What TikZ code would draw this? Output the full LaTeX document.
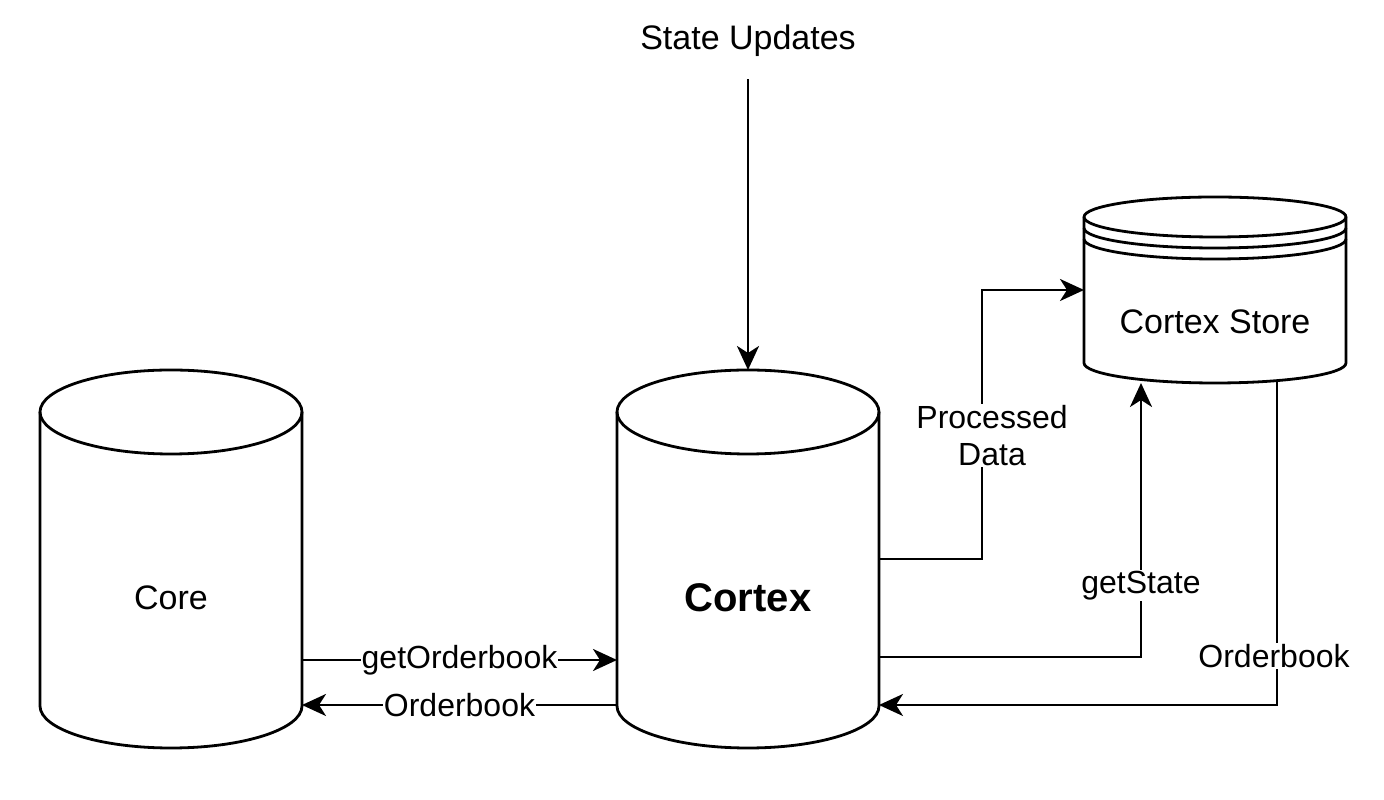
\documentclass[tikz,border=0pt]{standalone}
\usepackage{fontspec}
\setmainfont{Liberation Sans}
\usepackage{tikz}
\usetikzlibrary{arrows.meta, positioning, calc}

% cylinder outline round a named node: #1 node, #2 half height of the cap
\newcommand{\cylout}[2]{%
  \draw[line width=2.8pt, fill=white]
    ([yshift=-#2]#1.north west) -- ([yshift=#2]#1.south west)
    arc[start angle=180, end angle=360, x radius=131pt, y radius=#2]
    -- ([yshift=-#2]#1.north east)
    arc[start angle=0, end angle=180, x radius=131pt, y radius=#2] -- cycle;
  \draw[line width=2.8pt] ([yshift=-#2]#1.north west)
    arc[start angle=180, end angle=360, x radius=131pt, y radius=#2];
}

\begin{document}
\begin{tikzpicture}[x=1pt, y=1pt,
    cyl/.style={draw=none, inner sep=0pt, outer sep=0pt, minimum width=262pt},
    big/.style={font=\fontsize{34}{40}\selectfont},
    lbl/.style={fill=white, inner sep=1pt, align=center, font=\fontsize{32}{37}\selectfont},
    arr/.style={-{Stealth[length=24pt, width=22pt, inset=7pt]}, line width=2.8pt}]
    \useasboundingbox (0,0) rectangle (1384,800);
    % Nodes
    \node[cyl, minimum height=378pt] (core) at (171,241) {};
    \node[cyl, minimum height=378pt] (cortex) at (748,241) {};
    \node[cyl, minimum height=186pt] (store) at (1215,510) {};
    \node[big] (updates) at (748,759) {State Updates};

    % Shapes
    \cylout{core}{42pt}
    \cylout{cortex}{42pt}
    \cylout{store}{20pt}
    \foreach \s in {31pt, 42pt}
        \draw[line width=2.8pt] ([yshift=-\s]store.north west)
            arc[start angle=180, end angle=360, x radius=131pt, y radius=20pt];
    \node[big] (core-txt) at ([yshift=-39pt]core.center) {Core};
    \node[font=\fontsize{40}{46}\selectfont\bfseries] (cortex-txt) at ([yshift=-39pt]cortex.center) {Cortex};
    \node[big] (store-txt) at ([yshift=-32pt]store.center) {Cortex Store};

    % Arrows
    \draw[arr] ([yshift=-19pt]updates.south) -- (cortex.north);
    \draw[arr] ([yshift=-101pt]core.east) -- node[lbl] {getOrderbook} ([yshift=-101pt]cortex.west);
    \draw[arr] ([yshift=-146pt]cortex.west) -- node[lbl] {Orderbook} ([yshift=-146pt]core.east);
    \draw[arr] (cortex.east) -- ++(103,0) |- node[lbl, pos=0.23, xshift=10pt] {Processed\\Data} (store.west);
    \draw[arr] ([yshift=-98pt]cortex.east) -| node[lbl, pos=0.63] {getState} ([xshift=-74pt]store.south);
    \draw[arr] ([xshift=62pt, yshift=3pt]store.south) |- node[lbl, pos=0.425, xshift=-3pt] {Orderbook} ([yshift=-146pt]cortex.east);
\end{tikzpicture}
\end{document}
